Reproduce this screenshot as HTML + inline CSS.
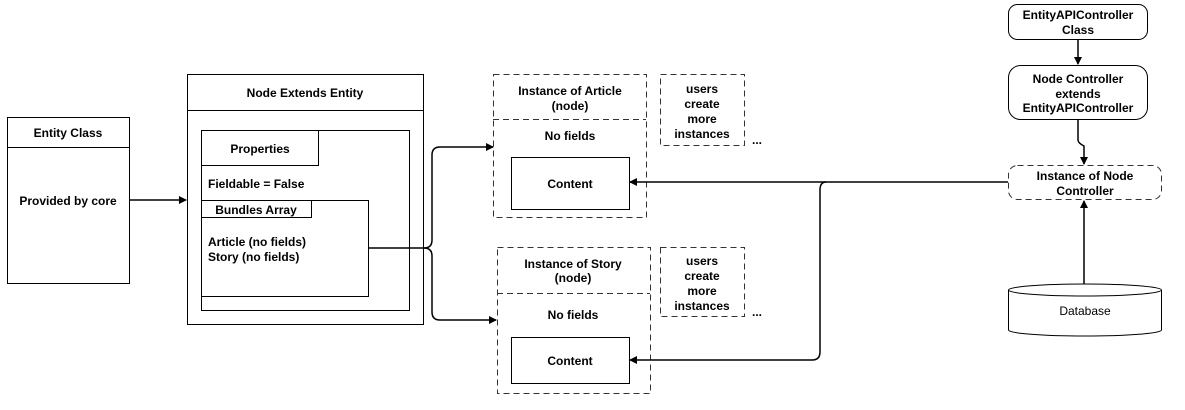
<!DOCTYPE html>
<html><head><style>body{margin:0;background:#fff}svg text{font-family:"Liberation Sans",sans-serif;font-size:12px;font-weight:bold;fill:#000;text-anchor:middle}</style></head>
<body>
<svg width="1185" height="405" viewBox="0 0 1185 405" xmlns="http://www.w3.org/2000/svg">
<defs><marker id="a" markerWidth="8" markerHeight="8" refX="7" refY="4" orient="auto" markerUnits="userSpaceOnUse"><path d="M0,0 L8,4 L0,8 z" fill="#000"/></marker></defs>
<g fill="none" stroke="#000" stroke-width="1">
<rect x="7.5" y="117.5" width="122" height="166"/><line x1="7" y1="147.5" x2="129" y2="147.5"/>
<rect x="187.5" y="74.5" width="236" height="250"/><line x1="187" y1="110.5" x2="423" y2="110.5"/>
<rect x="201.5" y="130.5" width="208" height="180"/>
<rect x="201.5" y="130.5" width="117" height="35"/>
<rect x="201.5" y="200.5" width="167" height="96"/>
<rect x="201.5" y="200.5" width="110" height="17"/>
<rect x="511.5" y="157.5" width="118" height="52"/>
<rect x="511.5" y="337.5" width="118" height="46"/>
<rect x="1008.5" y="4.5" width="139" height="35" rx="9"/>
<rect x="1008.5" y="65.5" width="139" height="54" rx="12"/>
<g stroke-dasharray="6,4" stroke="#333">
<rect x="493.5" y="74.5" width="153" height="143"/><line x1="493" y1="119.5" x2="646" y2="119.5"/>
<rect x="497.5" y="247.5" width="153" height="146"/><line x1="497" y1="293.5" x2="650" y2="293.5"/>
<rect x="660.5" y="74.5" width="84" height="71"/>
<rect x="660.5" y="247.5" width="84" height="69"/>
<rect x="1008.5" y="165.5" width="153" height="34" rx="9"/>
</g>
<path d="M1008.5,290 L1008.5,330 A76.5,6 0 0 0 1161.5,330 L1161.5,290"/>
<ellipse cx="1085" cy="290" rx="76.5" ry="6"/>
<g stroke-width="1.5">
<line x1="129" y1="200" x2="186" y2="200" marker-end="url(#a)"/>
<path d="M368,248 L424,248 Q432,248 432,240 L432,155 Q432,147 440,147 L493,147" marker-end="url(#a)"/>
<path d="M424,248 Q432,248 432,256 L432,312 Q432,320 440,320 L496,320" marker-end="url(#a)"/>
<path d="M1008,182 L630,182" marker-end="url(#a)"/>
<path d="M826,182 Q820,182 820,190 L820,352 Q820,360 812,360 L630,360" marker-end="url(#a)"/>
<line x1="1078" y1="39" x2="1078" y2="64" marker-end="url(#a)"/>
<path d="M1078,119 L1078,140 Q1078,143 1084,146 L1084,164" marker-end="url(#a)"/>
<line x1="1084" y1="284" x2="1084" y2="201" marker-end="url(#a)"/>
</g></g>
<text x="68" y="137">Entity Class</text>
<text x="68" y="205">Provided by core</text>
<text x="305" y="97">Node Extends Entity</text>
<text x="260" y="153">Properties</text>
<text x="208" y="188" style="text-anchor:start">Fieldable = False</text>
<text x="256" y="214">Bundles Array</text>
<text x="208" y="246" style="text-anchor:start">Article (no fields)</text>
<text x="208" y="261" style="text-anchor:start">Story (no fields)</text>
<text x="570" y="95">Instance of Article</text><text x="570" y="110">(node)</text>
<text x="570" y="140">No fields</text>
<text x="570" y="188">Content</text>
<text x="702" y="93">users</text><text x="702" y="108">create</text><text x="702" y="123">more</text><text x="702" y="138">instances</text>
<text x="757" y="144">...</text>
<text x="573" y="268">Instance of Story</text><text x="573" y="282">(node)</text>
<text x="573" y="319">No fields</text>
<text x="570" y="365">Content</text>
<text x="702" y="265">users</text><text x="702" y="280">create</text><text x="702" y="295">more</text><text x="702" y="310">instances</text>
<text x="757" y="316">...</text>
<text x="1078" y="19">EntityAPIController</text><text x="1078" y="34">Class</text>
<text x="1078" y="83">Node Controller</text><text x="1078" y="98">extends</text><text x="1078" y="112">EntityAPIController</text>
<text x="1085" y="180">Instance of Node</text><text x="1085" y="195">Controller</text>
<text x="1085" y="315" style="font-weight:normal">Database</text>
</svg>
</body></html>
